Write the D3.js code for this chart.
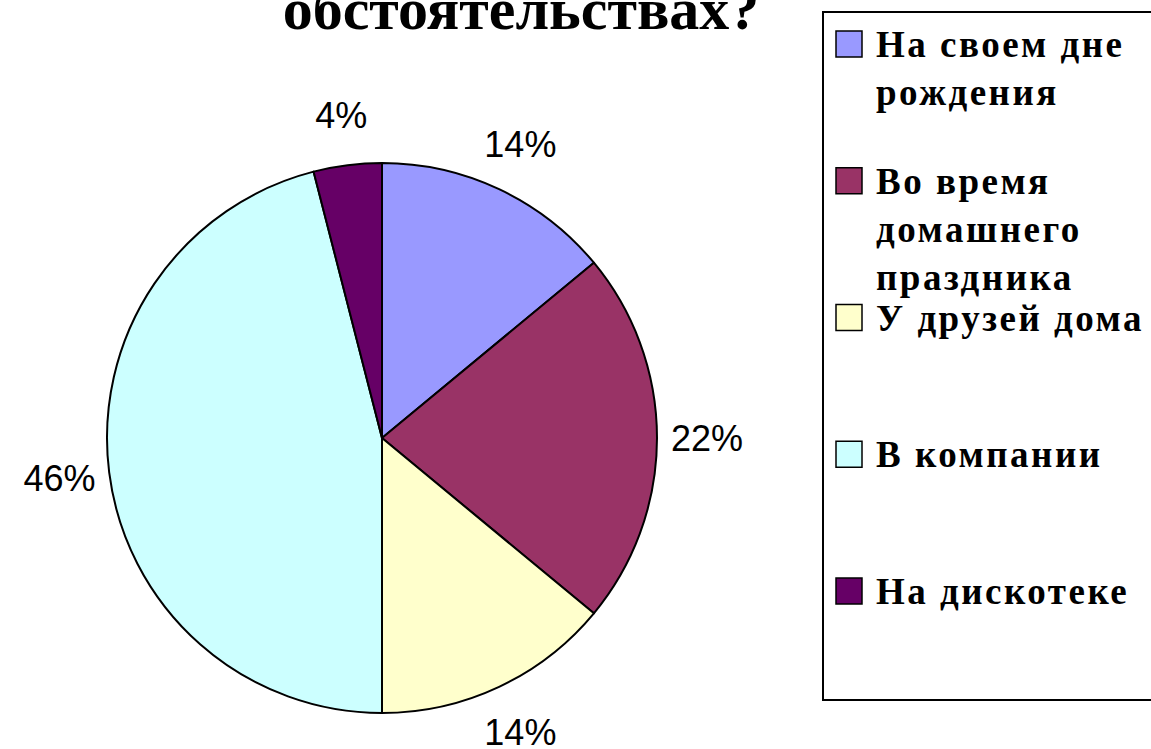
<!DOCTYPE html>
<html>
<head>
<meta charset="utf-8">
<script src="https://cdn.jsdelivr.net/npm/d3@7"></script>
<style>
  body { margin: 0; background: #fff; }
  svg { display: block; }
</style>
</head>
<body>
<div id="chart"></div>
<script>
// data
const categories = ["На своем дне рождения", "Во время домашнего праздника", "У друзей дома", "В компании", "На дискотеке"];
const legendLines = [["На своем дне", "рождения"], ["Во время", "домашнего", "праздника"], ["У друзей дома"], ["В компании"], ["На дискотеке"]];
const values = [14, 22, 14, 46, 4];
const colors = ["#9999ff", "#993366", "#ffffcc", "#ccffff", "#660066"];
const title = "обстоятельствах?";

const width = 1151, height = 749;
const cx = 382, cy = 438, radius = 275;

const svg = d3.select("#chart").append("svg")
    .attr("width", width)
    .attr("height", height)
    .attr("viewBox", [0, 0, width, height]);

// title (its first line is cut off above the picture)
svg.append("text")
    .attr("x", 521)
    .attr("y", 29)
    .attr("text-anchor", "middle")
    .attr("font-family", "'Liberation Serif', 'DejaVu Serif', serif")
    .attr("font-weight", "bold")
    .attr("font-size", 60)
    .text(title);

const pie = d3.pie().sort(null).value(d => d)(values);
const arc = d3.arc().innerRadius(0).outerRadius(radius);
const labelArc = d3.arc().innerRadius(325).outerRadius(325);

const g = svg.append("g").attr("transform", `translate(${cx},${cy})`);

g.selectAll("path")
  .data(pie)
  .join("path")
    .attr("d", arc)
    .attr("fill", (d, i) => colors[i])
    .attr("stroke", "#000")
    .attr("stroke-width", 2)
    .attr("stroke-linejoin", "round");

g.selectAll("text.pct")
  .data(pie)
  .join("text")
    .attr("class", "pct")
    .attr("transform", d => `translate(${labelArc.centroid(d)})`)
    .attr("text-anchor", "middle")
    .attr("dy", "0.35em")
    .attr("font-family", "'Liberation Sans', Arial, sans-serif")
    .attr("font-size", 36)
    .attr("fill", "#000")
    .text(d => d.data + "%");

// legend
const legend = svg.append("g");
legend.append("rect")
    .attr("x", 823)
    .attr("y", 12)
    .attr("width", 360)
    .attr("height", 688)
    .attr("fill", "#fff")
    .attr("stroke", "#000")
    .attr("stroke-width", 2);

const itemY = d3.scalePoint().domain(d3.range(categories.length)).range([31, 578]);

const item = legend.selectAll("g.item")
  .data(categories)
  .join("g")
    .attr("class", "item")
    .attr("transform", (d, i) => `translate(836,${itemY(i)})`);

item.append("rect")
    .attr("width", 26)
    .attr("height", 26)
    .attr("fill", (d, i) => colors[i])
    .attr("stroke", "#000")
    .attr("stroke-width", 1.5);

item.append("text")
    .attr("x", 40)
    .attr("y", 26)
    .attr("font-family", "'Liberation Serif', 'DejaVu Serif', serif")
    .attr("font-weight", "bold")
    .attr("font-size", 37)
    .attr("letter-spacing", 2.5)
    .attr("fill", "#000")
  .selectAll("tspan")
  .data((d, i) => legendLines[i])
  .join("tspan")
    .attr("x", 40)
    .attr("dy", (d, j) => j === 0 ? 0 : 48)
    .text(d => d);
</script>
</body>
</html>
